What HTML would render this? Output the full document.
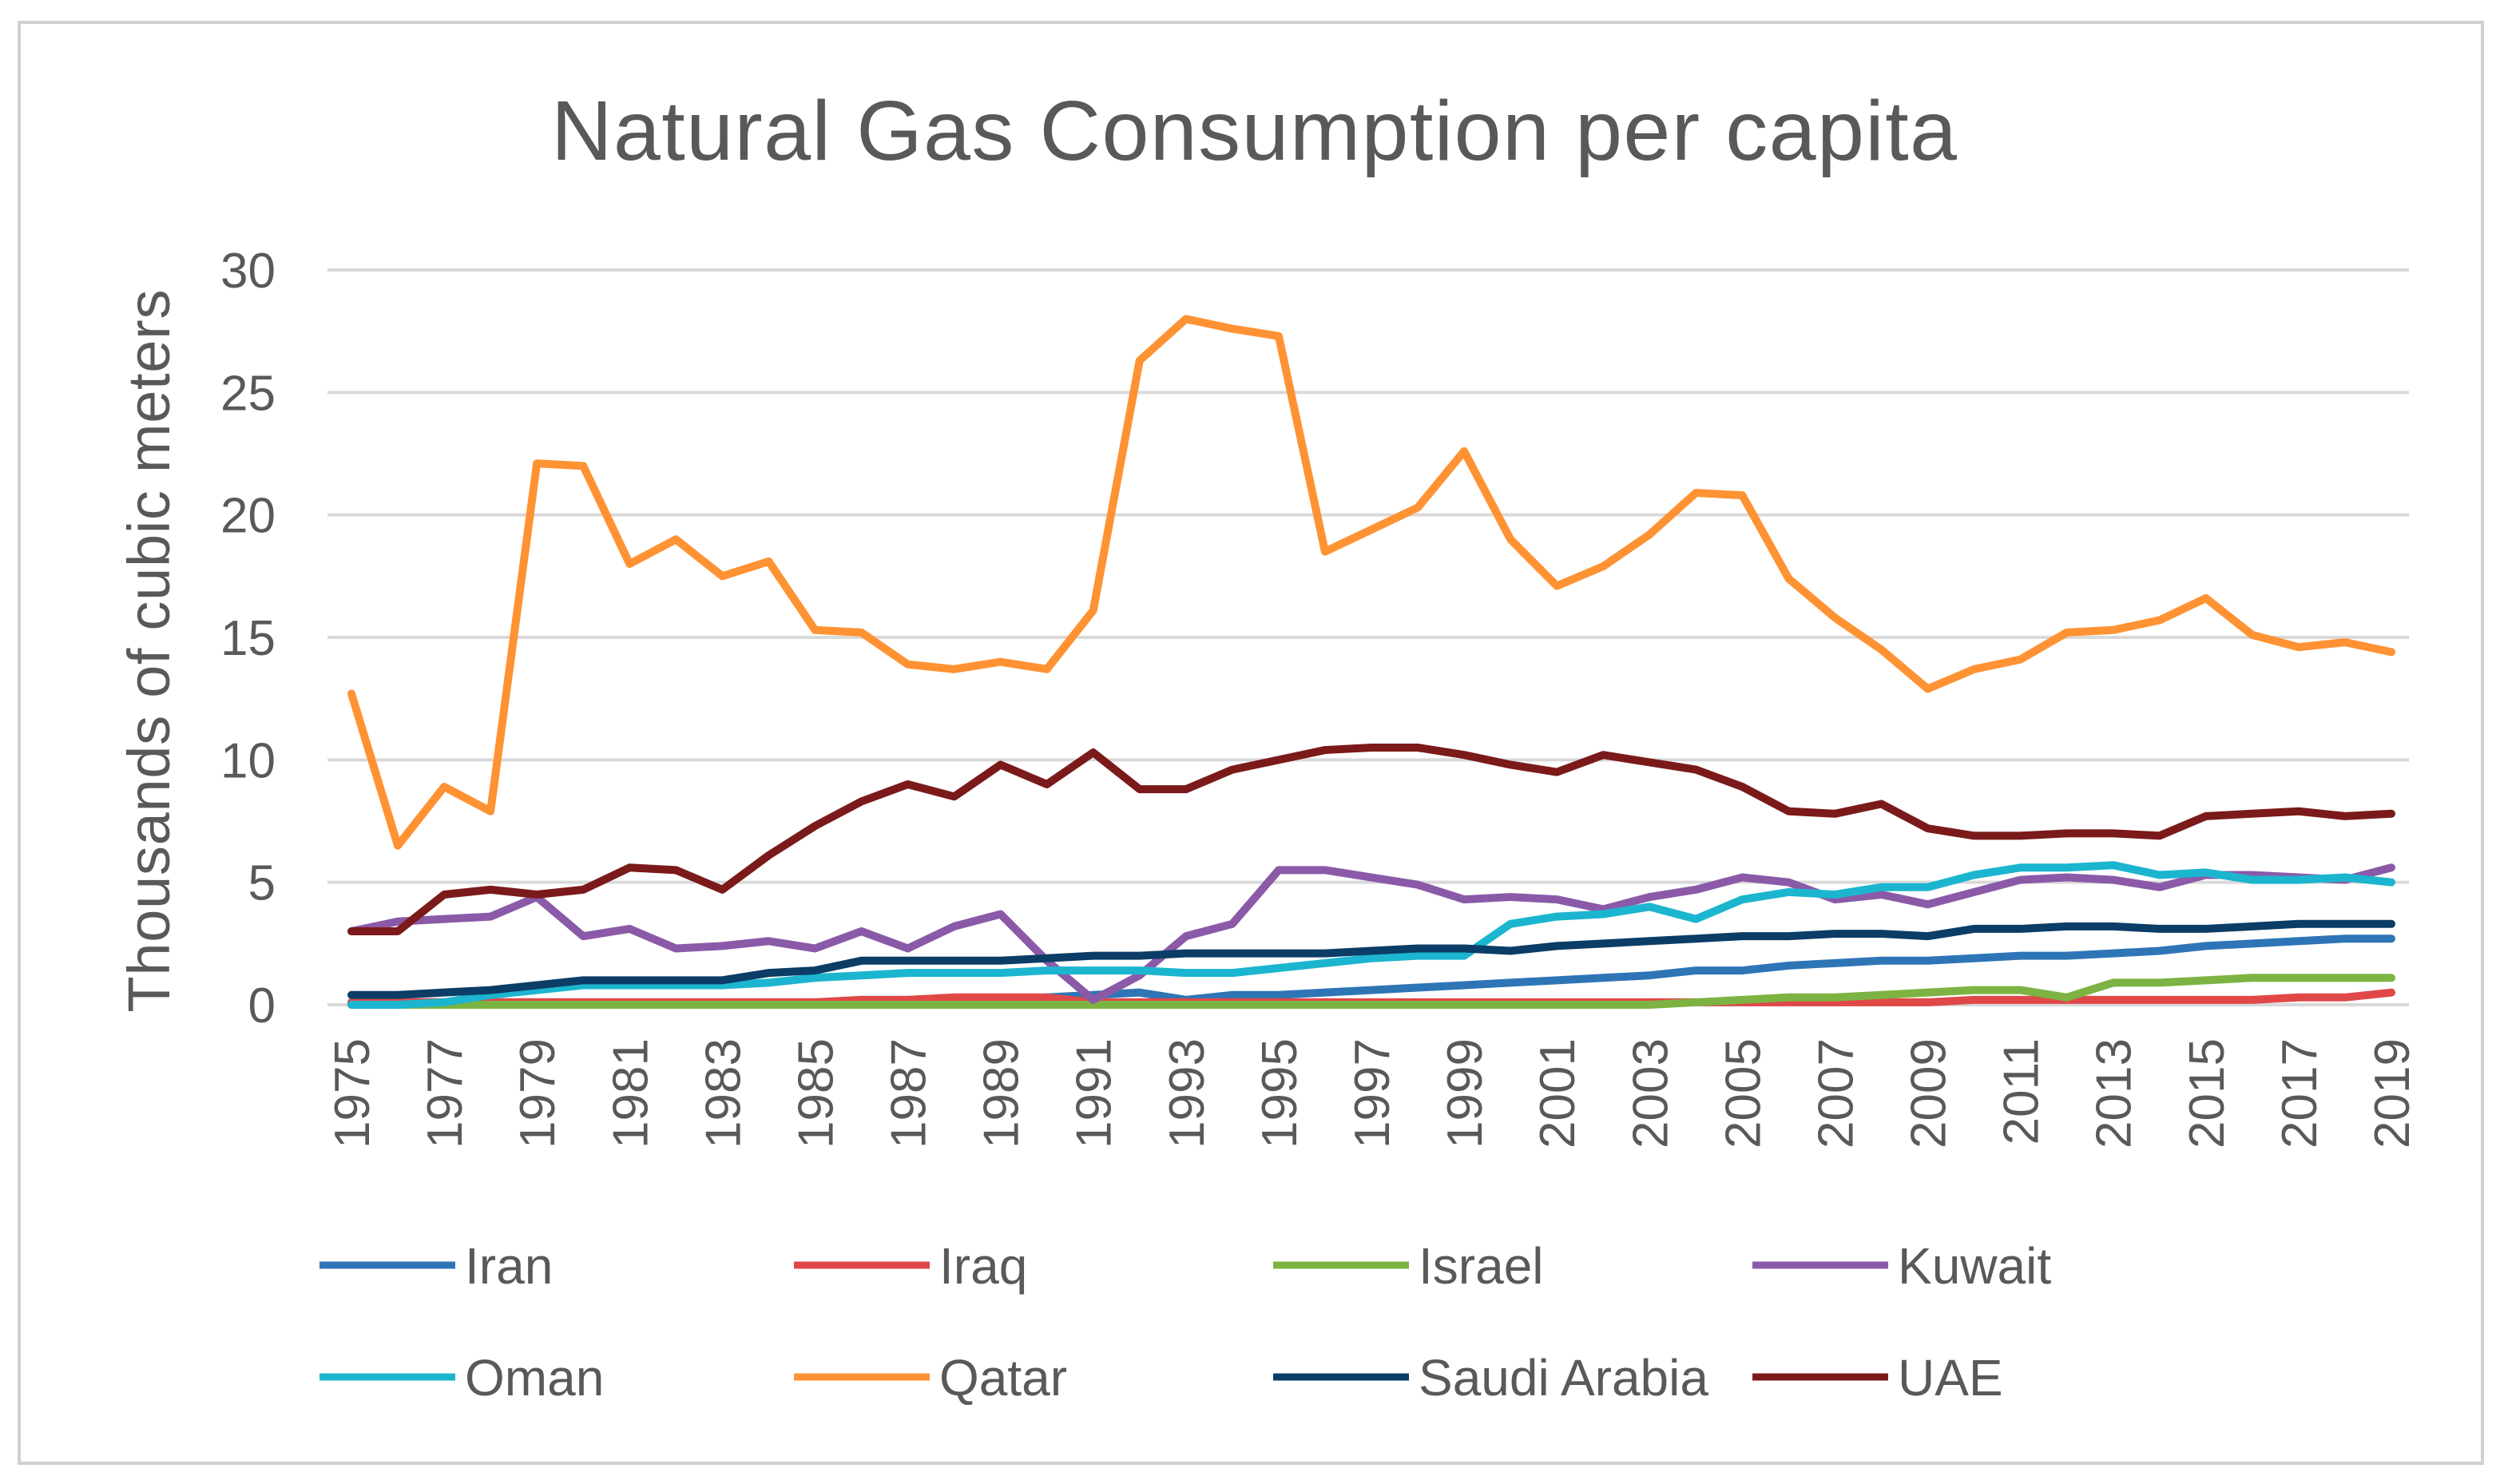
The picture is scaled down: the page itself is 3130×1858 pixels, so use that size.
<!DOCTYPE html>
<html><head><meta charset="utf-8"><style>
html,body{margin:0;padding:0;background:#fff;}
svg{display:block;font-family:"Liberation Sans",sans-serif;}
</style></head><body>
<svg id="chart" width="3130" height="1858" viewBox="0 0 3130 1858">
<rect x="24" y="28" width="3084" height="1804" fill="#fff" stroke="#d0d0d0" stroke-width="4"/>
<text x="1570" y="200" font-size="106" fill="#595959" text-anchor="middle" textLength="1760">Natural Gas Consumption per capita</text>
<text transform="translate(212,815) rotate(-90)" font-size="74" fill="#595959" text-anchor="middle" textLength="905">Thousands of cubic meters</text>
<g id="grid"></g><g id="yt"></g><g id="xt"></g><g id="lines"></g><g id="legend"></g>
</svg>
<script>
const years=[];for(let y=1975;y<=2019;y++)years.push(y);
const yTicks=[0,5,10,15,20,25,30];
const seriesNames=["Iran","Iraq","Israel","Kuwait","Oman","Qatar","Saudi Arabia","UAE"];
const seriesColors=["#2e75b6","#e04848","#7cb342","#8a5aa8","#1cb5cf","#ff9233","#0b3d66","#7b1a1a"];
const iran=[0.1,0.1,0.1,0.1,0.1,0.1,0.1,0.1,0.1,0.1,0.1,0.2,0.2,0.2,0.2,0.3,0.4,0.5,0.2,0.4,0.4,0.5,0.6,0.7,0.8,0.9,1.0,1.1,1.2,1.4,1.4,1.6,1.7,1.8,1.8,1.9,2.0,2.0,2.1,2.2,2.4,2.5,2.6,2.7,2.7];
const iraq=[0.1,0.1,0.1,0.1,0.1,0.1,0.1,0.1,0.1,0.1,0.1,0.2,0.2,0.3,0.3,0.3,0.1,0.1,0.1,0.1,0.1,0.1,0.1,0.1,0.1,0.1,0.1,0.1,0.1,0.1,0.1,0.1,0.1,0.1,0.1,0.2,0.2,0.2,0.2,0.2,0.2,0.2,0.3,0.3,0.5];
const israel=[0,0,0,0,0,0,0,0,0,0,0,0,0,0,0,0,0,0,0,0,0,0,0,0,0,0,0,0,0,0.1,0.2,0.3,0.3,0.4,0.5,0.6,0.6,0.3,0.9,0.9,1.0,1.1,1.1,1.1,1.1];
const kuwait=[3.0,3.4,3.5,3.6,4.4,2.8,3.1,2.3,2.4,2.6,2.3,3.0,2.3,3.2,3.7,1.8,0.2,1.2,2.8,3.3,5.5,5.5,5.2,4.9,4.3,4.4,4.3,3.9,4.4,4.7,5.2,5.0,4.3,4.5,4.1,4.6,5.1,5.2,5.1,4.8,5.3,5.3,5.2,5.1,5.6];
const oman=[0,0,0.1,0.4,0.6,0.8,0.8,0.8,0.8,0.9,1.1,1.2,1.3,1.3,1.3,1.4,1.4,1.4,1.3,1.3,1.5,1.7,1.9,2.0,2.0,3.3,3.6,3.7,4.0,3.5,4.3,4.6,4.5,4.8,4.8,5.3,5.6,5.6,5.7,5.3,5.4,5.1,5.1,5.2,5.0];
const qatar=[12.7,6.5,8.9,7.9,22.1,22.0,18.0,19.0,17.5,18.1,15.3,15.2,13.9,13.7,14.0,13.7,16.1,26.3,28.0,27.6,27.3,18.5,19.4,20.3,22.6,19.0,17.1,17.9,19.2,20.9,20.8,17.4,15.8,14.5,12.9,13.7,14.1,15.2,15.3,15.7,16.6,15.1,14.6,14.8,14.4];
const saudi=[0.4,0.4,0.5,0.6,0.8,1.0,1.0,1.0,1.0,1.3,1.4,1.8,1.8,1.8,1.8,1.9,2.0,2.0,2.1,2.1,2.1,2.1,2.2,2.3,2.3,2.2,2.4,2.5,2.6,2.7,2.8,2.8,2.9,2.9,2.8,3.1,3.1,3.2,3.2,3.1,3.1,3.2,3.3,3.3,3.3];
const uae=[3.0,3.0,4.5,4.7,4.5,4.7,5.6,5.5,4.7,6.1,7.3,8.3,9.0,8.5,9.8,9.0,10.3,8.8,8.8,9.6,10.0,10.4,10.5,10.5,10.2,9.8,9.5,10.2,9.9,9.6,8.9,7.9,7.8,8.2,7.2,6.9,6.9,7.0,7.0,6.9,7.7,7.8,7.9,7.7,7.8];
const seriesData=[iran,iraq,israel,kuwait,oman,qatar,saudi,uae];
const NS="http://www.w3.org/2000/svg";
const X0=440,X1=2994,Y0=1258,Y1=338;
function xs(i){return X0+(X1-X0)*i/(years.length-1);}
function ys(v){return Y0-(Y0-Y1)*v/30;}
function mk(t,a,p){const e=document.createElementNS(NS,t);for(const k in a)e.setAttribute(k,a[k]);p.appendChild(e);return e;}
const grid=document.getElementById('grid'),yt=document.getElementById('yt'),xt=document.getElementById('xt'),lines=document.getElementById('lines'),lg=document.getElementById('legend');
yTicks.forEach(v=>{
 const l=mk('line',{x1:410,x2:3016,y1:ys(v),y2:ys(v),stroke:'#d9d9d9','stroke-width':4},grid);
 
 
 const t=mk('text',{x:345,y:ys(v)+22,'font-size':62,fill:'#595959','text-anchor':'end'},yt);
 t.textContent=v;
 
 
});
years.forEach((y,i)=>{
 if(i%2)return;
 const t=mk('text',{transform:`translate(${xs(i)+22},1300) rotate(-90)`,'font-size':62,fill:'#595959','text-anchor':'end'},xt);
 t.textContent=y;
 
 
});
seriesData.forEach((d,s)=>{
 const p=mk('polyline',{points:d.map((v,i)=>xs(i)+','+ys(v)).join(' '),fill:'none',stroke:seriesColors[s],'stroke-width':10,'stroke-linejoin':'round','stroke-linecap':'round'},lines);
 
 
});
const legX=[400,994,1594,2194],legY=[1584,1724];
seriesNames.forEach((n,s)=>{
 const x=legX[s%4],y=legY[Math.floor(s/4)];
 const g=mk('g',{},lg);
 
 
 mk('line',{x1:x,x2:x+170,y1:y,y2:y,stroke:seriesColors[s],'stroke-width':9},g);
 const t=mk('text',{x:x+182,y:y+23,'font-size':64,fill:'#595959'},g);
 t.textContent=n;
});
</script>
</body></html>
